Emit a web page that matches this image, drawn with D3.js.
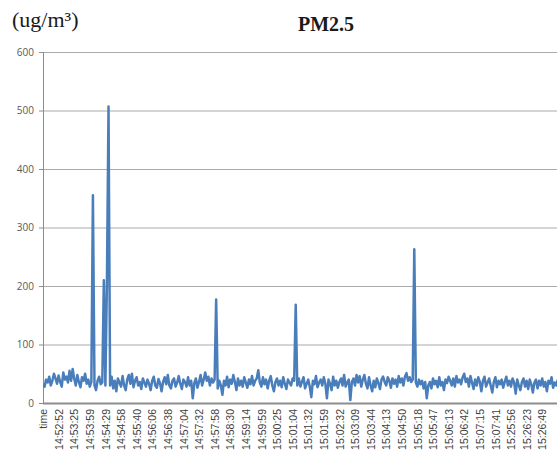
<!DOCTYPE html>
<html>
<head>
<meta charset="utf-8">
<script src="https://cdn.jsdelivr.net/npm/d3@7"></script>
<style>
  html, body { margin: 0; padding: 0; background: #ffffff; }
  svg { display: block; }
</style>
</head>
<body>
<svg id="chart" width="557" height="457"></svg>
<script>
// ---- data ----
const timeLabels = ["time","14:52:52","14:53:25","14:53:59","14:54:29","14:54:58","14:55:40","14:56:06","14:56:38","14:57:04","14:57:32","14:57:58","14:58:30","14:59:14","14:59:59","15:00:25","15:01:04","15:01:32","15:01:59","15:02:32","15:03:09","15:03:44","15:04:13","15:04:50","15:05:18","15:05:47","15:06:13","15:06:42","15:07:15","15:07:41","15:25:56","15:26:23","15:26:49"];
const labelEvery = 10; // one time label every 10 readings
const yTicks = [0, 100, 200, 300, 400, 500, 600];
const pm25 = [
  32, 28, 40, 35, 45, 30, 38, 50, 42, 33,
  47, 36, 28, 52, 40, 45, 35, 55, 38, 58,
  42, 30, 48, 36, 27, 44, 38, 50, 33, 40,
  28, 36, 355, 30, 22, 38, 45, 32, 35, 210,
  30, 212, 507, 30, 45, 25, 38, 20, 42, 35,
  28, 46, 30, 22, 40, 48, 33, 50, 27, 38,
  44, 30, 36, 24, 42, 35, 28, 40, 33, 22,
  38, 45, 30, 26, 41, 34, 20, 36, 44, 32,
  48, 30, 25, 38, 42, 28, 35, 46, 33, 24,
  40, 36, 28, 44, 30, 38, 8, 34, 42, 26,
  36, 48, 30, 40, 52, 38, 45, 30, 42, 35,
  40, 177, 25, 38, 30, 14, 38, 30, 45, 27,
  40, 33, 48, 36, 22, 42, 30, 38, 28, 44,
  35, 26, 40, 32, 46, 30, 38, 42, 56, 35,
  28, 44, 32, 40, 25, 38, 46, 30, 20, 36,
  42, 30, 38, 27, 44, 33, 24, 40, 35, 30,
  42, 38, 168, 30, 42, 28, 36, 44, 25, 33,
  40, 28, 10, 38, 32, 46, 27, 35, 40, 30,
  44, 33, 8, 40, 33, 22, 45, 30, 38, 26,
  36, 42, 30, 48, 28, 35, 40, 5, 36, 42,
  30, 48, 35, 46, 28, 40, 48, 33, 25, 44,
  30, 20, 38, 27, 42, 34, 24, 40, 45, 36,
  30, 44, 38, 26, 42, 33, 40, 28, 46, 35,
  42, 30, 45, 51, 38, 44, 36, 40, 263, 35,
  28, 40, 32, 38, 25, 36, 8, 30, 36, 25,
  42, 32, 38, 27, 44, 30, 36, 22, 40, 34,
  45, 38, 30, 42, 28, 46, 35, 40, 32, 44,
  50, 36, 42, 28, 46, 35, 24, 40, 30, 44,
  36, 20, 38, 45, 28, 35, 42, 30, 18, 36,
  44, 27, 38, 32, 40, 26, 36, 45, 30, 38,
  28, 42, 35, 16, 40, 30, 22, 36, 42, 28,
  38, 24, 40, 32, 18, 35, 40, 25, 38, 30,
  42, 28, 36, 20, 38, 33, 44, 26, 35, 30, 40
];

// ---- layout ----
const svg = d3.select("#chart");
const mLeft = 43, mTop = 52, mBottom = 403, mRight = 557;

const x = d3.scaleLinear()
  .domain([0, (timeLabels.length - 1) * labelEvery])
  .range([mLeft, 542.2]);
const y = d3.scaleLinear().domain([0, 600]).range([mBottom, mTop]);

// gridlines
svg.append("g")
  .attr("transform", `translate(${mLeft},0)`)
  .call(d3.axisLeft(y).tickValues(yTicks.filter(d => d > 0)).tickSize(-(mRight - mLeft)).tickFormat(""))
  .call(g => g.select(".domain").remove())
  .call(g => g.selectAll("line").attr("stroke", "#aaaaaa").attr("stroke-width", 1));

// y axis
const yAxis = svg.append("g")
  .attr("transform", `translate(${mLeft},0)`)
  .call(d3.axisLeft(y).tickValues(yTicks).tickSize(4).tickPadding(5));
yAxis.select(".domain").attr("stroke", "#8c8c8c");
yAxis.selectAll("line").attr("stroke", "#8c8c8c");
yAxis.selectAll("text")
  .attr("fill", "#595959")
  .style("font-family", "'Open Sans', 'Liberation Sans', sans-serif")
  .style("font-size", "10px");

// clip for the line
svg.append("clipPath").attr("id", "plotclip")
  .append("rect").attr("x", mLeft).attr("y", 0).attr("width", mRight - mLeft).attr("height", mBottom + 2);

// line
const line = d3.line()
  .x((d, i) => x(i))
  .y(d => y(d));
svg.append("path")
  .datum(pm25)
  .attr("clip-path", "url(#plotclip)")
  .attr("fill", "none")
  .attr("stroke", "#4a7ebb")
  .attr("stroke-width", 2.5)
  .attr("stroke-linejoin", "round")
  .attr("d", line);

// x axis
const xAxis = svg.append("g")
  .attr("transform", `translate(0,${mBottom})`)
  .call(d3.axisBottom(x)
    .tickValues(timeLabels.map((_, i) => i * labelEvery))
    .tickFormat((d, i) => timeLabels[i])
    .tickSize(0));
xAxis.select(".domain")
  .attr("d", `M${mLeft},0.5H${mRight}`)
  .attr("stroke", "#8c8c8c")
  .attr("stroke-width", 2);
xAxis.selectAll("text")
  .attr("fill", "#404040")
  .style("font-family", "'Liberation Sans', sans-serif")
  .style("font-size", "10.5px")
  .attr("text-anchor", "end")
  .attr("transform", "rotate(-90)")
  .attr("x", -6)
  .attr("y", 0)
  .attr("dy", "0.35em");

// titles
svg.append("text")
  .attr("x", 12).attr("y", 27)
  .style("font-family", "'Liberation Serif', 'Times New Roman', serif")
  .style("font-size", "22px")
  .attr("fill", "#1a1a1a")
  .text("(ug/m³)");
svg.append("text")
  .attr("x", 326).attr("y", 31)
  .attr("text-anchor", "middle")
  .style("font-family", "'Liberation Serif', 'Times New Roman', serif")
  .style("font-size", "20px")
  .style("font-weight", "bold")
  .attr("fill", "#1a1a1a")
  .text("PM2.5");
</script>
</body>
</html>
